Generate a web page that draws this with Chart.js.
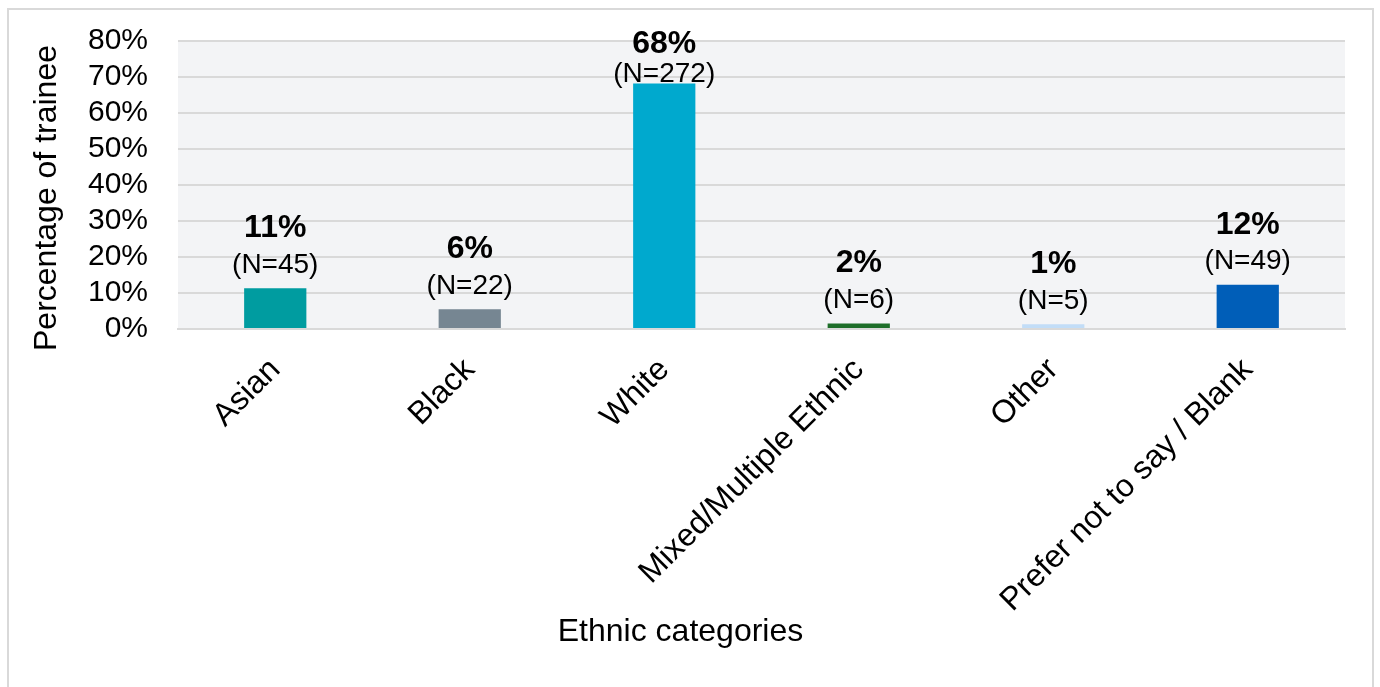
<!DOCTYPE html>
<html>
<head>
<meta charset="utf-8">
<script src="https://cdn.jsdelivr.net/npm/chart.js@4"></script>
<style>
  html, body { margin: 0; padding: 0; background: #fff; overflow: hidden; }
  #frame {
    position: absolute; left: 7px; top: 8px;
    width: 1363px; height: 700px;
    border: 2px solid #d9d9d9;
  }
  #chart { display: block; position: absolute; left: 0; top: -17px; }
</style>
</head>
<body>
<div id="frame"><canvas id="chart" width="1363" height="707"></canvas></div>
<script>
const categories = ['Asian', 'Black', 'White', 'Mixed/Multiple Ethnic', 'Other', 'Prefer not to say / Blank'];
const percentages = [11.3, 5.5, 68.2, 1.5, 1.3, 12.3];
const counts = [45, 22, 272, 6, 5, 49];
const barColors = ['#009ca0', '#768692', '#00a9ce', '#1e6e2a', '#c2ddf7', '#005eb8'];
const yMax = 80;
const yStep = 10;
const xTitle = 'Ethnic categories';
const yTitle = 'Percentage of trainee';

const FONT = '"Liberation Sans", Arial, sans-serif';

// light grey panel behind the bars
const plotBackground = {
    id: 'plotBackground',
    beforeDraw(chart) {
        const { ctx, chartArea } = chart;
        ctx.save();
        ctx.fillStyle = '#f3f4f6';
        ctx.fillRect(chartArea.left, chartArea.top, chartArea.right - chartArea.left, chartArea.bottom - chartArea.top);
        ctx.restore();
    }
};

// percentage (bold) and count stacked above each bar
const barLabels = {
    id: 'barLabels',
    afterDatasetsDraw(chart) {
        const { ctx, chartArea } = chart;
        const meta = chart.getDatasetMeta(0);
        ctx.save();
        ctx.fillStyle = '#000';
        ctx.textAlign = 'center';
        ctx.textBaseline = 'middle';
        meta.data.forEach((bar, i) => {
            let boldY = Math.max(bar.y - 60, chartArea.top + 3);
            let countY = Math.max(bar.y - 23, boldY + 30);
            ctx.font = 'bold 32px ' + FONT;
            ctx.fillText(Math.round(percentages[i]) + '%', bar.x, boldY);
            ctx.font = '28px ' + FONT;
            ctx.fillText('(N=' + counts[i] + ')', bar.x, countY);
        });
        ctx.restore();
    }
};

// axis titles, placed a little off the plot centre
const axisTitles = {
    id: 'axisTitles',
    afterDraw(chart) {
        const { ctx, width, chartArea } = chart;
        ctx.save();
        ctx.fillStyle = '#000';
        ctx.font = '32px ' + FONT;
        ctx.textAlign = 'center';
        ctx.textBaseline = 'middle';
        ctx.fillText(xTitle, width / 2 - 10, chartArea.bottom + 303);

        ctx.translate(38, (chartArea.top + chartArea.bottom) / 2 + 13);
        ctx.rotate(-Math.PI / 2);
        ctx.fillText(yTitle, 0, 0);
        ctx.restore();
    }
};

const ctx = document.getElementById('chart').getContext('2d');
const chart = new Chart(ctx, {
    type: 'bar',
    data: {
        labels: categories,
        datasets: [{
            data: percentages,
            backgroundColor: barColors,
            borderWidth: 0,
            barPercentage: 0.32,
            categoryPercentage: 1
        }]
    },
    options: {
        responsive: false,
        animation: false,
        layout: { padding: { top: 13, right: 27, left: 0, bottom: 0 } },
        plugins: {
            legend: { display: false },
            tooltip: { enabled: false }
        },
        scales: {
            x: {
                grid: { display: false, drawTicks: false },
                border: { color: '#d9d9d9', width: 2 },
                ticks: {
                    color: '#000',
                    font: { family: FONT, size: 32 },
                    maxRotation: 45,
                    minRotation: 45,
                    autoSkip: false,
                    padding: 22
                },
                afterFit(scale) { scale.height = 371; }
            },
            y: {
                min: 0,
                max: yMax,
                grid: { color: '#d9d9d9', lineWidth: 2, drawTicks: false },
                border: { display: false },
                ticks: {
                    stepSize: yStep,
                    color: '#000',
                    font: { family: FONT, size: 30 },
                    padding: 30,
                    autoSkip: false,
                    callback: v => v + '%'
                },
                afterFit(scale) { scale.width = 169; }
            }
        }
    },
    plugins: [plotBackground, barLabels, axisTitles]
});
</script>
</body>
</html>
